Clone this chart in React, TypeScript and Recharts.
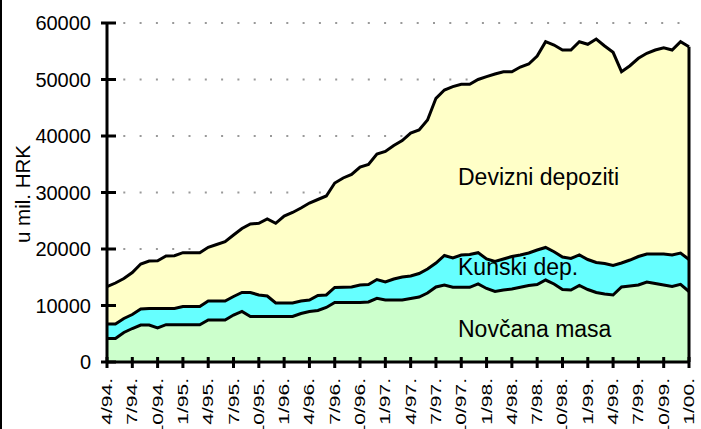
import {
  Area,
  CartesianGrid,
  ComposedChart,
  Line,
  ReferenceLine,
  XAxis,
  YAxis,
} from "recharts";

// monthly, 4/94 – 1/00, u mil. HRK
const MONTHS = [
  "4/94.", "5/94.", "6/94.", "7/94.", "8/94.", "9/94.", "10/94.", "11/94.", "12/94.",
  "1/95.", "2/95.", "3/95.", "4/95.", "5/95.", "6/95.", "7/95.", "8/95.", "9/95.", "10/95.", "11/95.", "12/95.",
  "1/96.", "2/96.", "3/96.", "4/96.", "5/96.", "6/96.", "7/96.", "8/96.", "9/96.", "10/96.", "11/96.", "12/96.",
  "1/97.", "2/97.", "3/97.", "4/97.", "5/97.", "6/97.", "7/97.", "8/97.", "9/97.", "10/97.", "11/97.", "12/97.",
  "1/98.", "2/98.", "3/98.", "4/98.", "5/98.", "6/98.", "7/98.", "8/98.", "9/98.", "10/98.", "11/98.", "12/98.",
  "1/99.", "2/99.", "3/99.", "4/99.", "5/99.", "6/99.", "7/99.", "8/99.", "9/99.", "10/99.", "11/99.", "12/99.",
  "1/00.",
];

const NOVCANA_MASA = [
  4160, 4160, 5220, 5930, 6550, 6550, 6050, 6600, 6600, 6600,
  6600, 6600, 7430, 7430, 7430, 8320, 8940, 8050, 8050, 8050,
  8050, 8050, 8050, 8580, 8940, 9120, 9650, 10530, 10530, 10530,
  10530, 10620, 11270, 10970, 10970, 10970, 11240, 11500, 12210, 13280,
  13630, 13220, 13220, 13220, 13810, 13010, 12480, 12740, 12920, 13220,
  13540, 13720, 14510, 13810, 12830, 12740, 13540, 12830, 12300, 12040,
  11860, 13280, 13450, 13630, 14160, 13890, 13630, 13360, 13750, 12480,
];

const KUNSKI_DEP = [
  2570, 2570, 2480, 2480, 2830, 2920, 3420, 2870, 2870, 3220,
  3220, 3220, 3370, 3370, 3370, 3270, 3360, 4250, 3810, 3630,
  2390, 2390, 2390, 2220, 2030, 2650, 2210, 2660, 2690, 2750,
  3100, 3100, 3330, 3190, 3720, 4070, 3980, 4160, 4250, 4240,
  5220, 5190, 5720, 5810, 5540, 5220, 5310, 5490, 5750, 5720,
  5750, 6100, 5760, 5710, 5750, 5580, 5400, 5310, 5310, 5390,
  5220, 4240, 4600, 5040, 4960, 5230, 5490, 5580, 5540, 5660,
];

const DEVIZNI_DEP = [
  6600, 7250, 7080, 7430, 7970, 8410, 8460, 9290, 9350, 9530,
  9530, 9530, 9500, 10000, 10490, 10890, 11330, 12130, 12690, 13630,
  14110, 15400, 16020, 16460, 17170, 16990, 17520, 18490, 19350, 19910,
  20880, 21240, 22210, 23100, 23630, 24160, 25310, 25400, 26370, 29150,
  29290, 30320, 30210, 30120, 30650, 32270, 33190, 33150, 32710, 33270,
  33450, 34340, 36420, 36590, 36640, 36900, 37750, 38090, 39560, 38500,
  37730, 33860, 34390, 35080, 35520, 36100, 36510, 36280, 37400, 37670,
];

const Y_TICKS = [0, 10000, 20000, 30000, 40000, 50000, 60000];

const FONT = '"Liberation Sans", Arial, sans-serif';

const data = MONTHS.map((month, i) => ({
  month,
  novcana: NOVCANA_MASA[i],
  kunski: KUNSKI_DEP[i],
  devizni: DEVIZNI_DEP[i],
}));

const last = data[data.length - 1];
const lastTotal = last.novcana + last.kunski + last.devizni;

function MonthTick({ x, y, payload }: any) {
  return (
    <g>
      <line x1={x} x2={x} y1={y - 5} y2={y + 6} stroke="#000" strokeWidth={3} />
      <text
        transform={`translate(${x + 5},${y + 16}) rotate(-90) scale(1.5,1)`}
        textAnchor="end"
        fontSize={14}
        fontFamily={FONT}
        fill="#000"
      >
        {payload.value}
      </text>
    </g>
  );
}

function ValueTick({ x, y, payload }: any) {
  return (
    <g>
      <line x1={x - 6} x2={x + 9} y1={y} y2={y} stroke="#000" strokeWidth={3} />
      <text
        x={x - 16}
        y={y}
        dy="0.36em"
        textAnchor="end"
        fontSize={20}
        fontFamily={FONT}
        fill="#000"
      >
        {payload.value}
      </text>
    </g>
  );
}

const lineProps = {
  type: "linear" as const,
  stroke: "#000",
  strokeWidth: 3,
  dot: false,
  activeDot: false,
  isAnimationActive: false,
};

export default function App() {
  return (
    <div style={{ position: "absolute", left: 0, top: 0, width: 701, height: 429, background: "#fff" }}>
      <ComposedChart
        width={701}
        height={429}
        data={data}
        margin={{ top: 23, right: 12, bottom: 0, left: 0 }}
      >
        <CartesianGrid
          vertical={false}
          stroke="#999"
          strokeWidth={2}
          strokeDasharray="2 14.3"
        />
        <Area
          dataKey="novcana"
          stackId="m"
          type="linear"
          stroke="none"
          fill="#CCFFCC"
          fillOpacity={1}
          isAnimationActive={false}
        />
        <Area
          dataKey="kunski"
          stackId="m"
          type="linear"
          stroke="none"
          fill="#66FFFF"
          fillOpacity={1}
          isAnimationActive={false}
        />
        <Area
          dataKey="devizni"
          stackId="m"
          type="linear"
          stroke="none"
          fill="#FFFFC8"
          fillOpacity={1}
          isAnimationActive={false}
        />
        <Line {...lineProps} dataKey={(d: any) => d.novcana} />
        <Line {...lineProps} dataKey={(d: any) => d.novcana + d.kunski} />
        <Line {...lineProps} dataKey={(d: any) => d.novcana + d.kunski + d.devizni} />
        <ReferenceLine
          segment={[
            { x: last.month, y: 0 },
            { x: last.month, y: lastTotal },
          ]}
          stroke="#000"
          strokeWidth={3}
        />
        <XAxis
          dataKey="month"
          scale="point"
          padding={{ left: 0, right: 0 }}
          interval={2}
          height={67}
          tick={<MonthTick />}
          tickLine={false}
          tickSize={0}
          tickMargin={0}
          axisLine={{ stroke: "#000", strokeWidth: 3 }}
        />
        <YAxis
          width={107}
          domain={[0, 60000]}
          ticks={Y_TICKS}
          allowDataOverflow
          tick={<ValueTick />}
          tickLine={false}
          tickSize={0}
          tickMargin={0}
          axisLine={{ stroke: "#000", strokeWidth: 3 }}
        />
      </ComposedChart>
      <svg
        width={701}
        height={429}
        style={{ position: "absolute", left: 0, top: 0, pointerEvents: "none" }}
        fontFamily={FONT}
      >
        <line x1={1} x2={1} y1={0} y2={429} stroke="#000" strokeWidth={2} />
        <text transform="translate(30,194) rotate(-90)" textAnchor="middle" fontSize={20.5} fill="#000">
          u mil. HRK
        </text>
        <text x={458} y={185} fontSize={23} fill="#000">Devizni depoziti</text>
        <text x={458} y={275} fontSize={23} fill="#000">Kunski dep.</text>
        <text x={458} y={337} fontSize={23} fill="#000">Novčana masa</text>
      </svg>
    </div>
  );
}
